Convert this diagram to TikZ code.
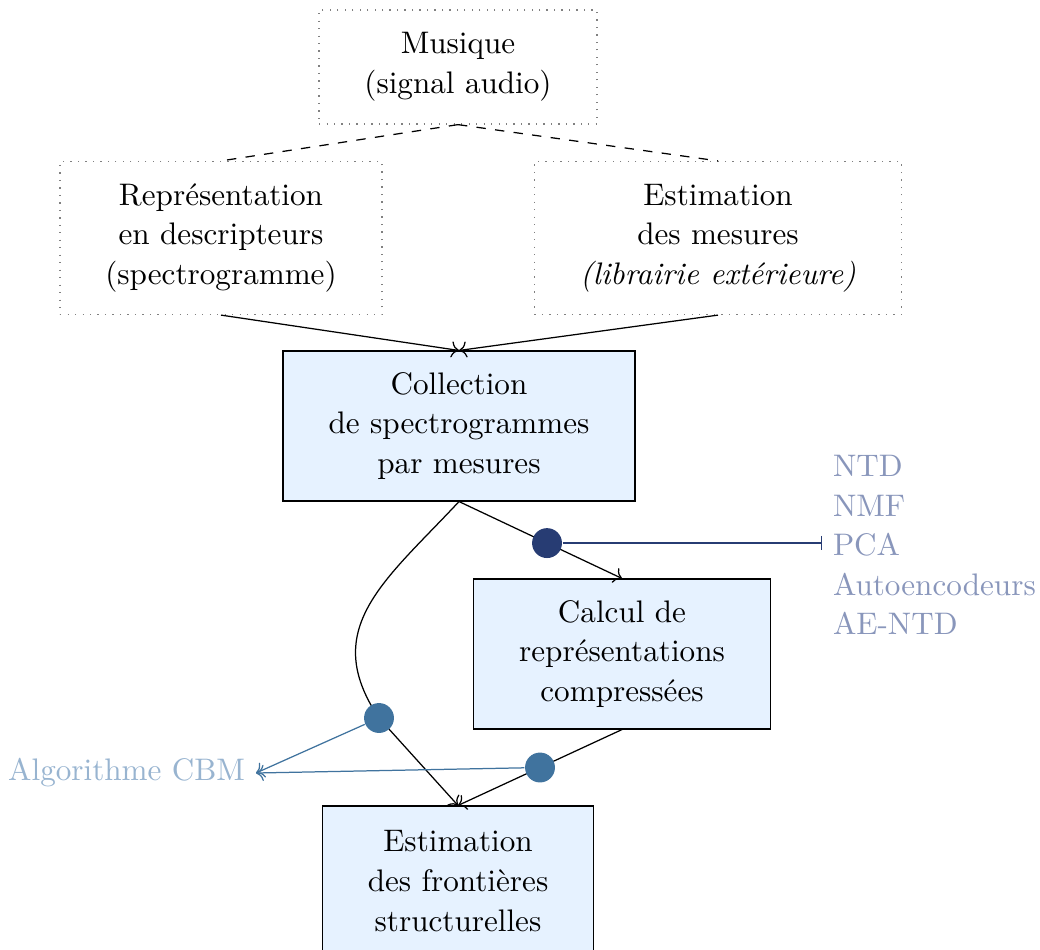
\documentclass[tikz,border=0pt]{standalone}
\usepackage{tikz}
\usetikzlibrary{arrows.meta}
\definecolor{boxblue}{RGB}{230,242,255}
\definecolor{dotnavy}{RGB}{39,60,115}
\definecolor{dotsteel}{RGB}{64,115,158}
\definecolor{listtext}{RGB}{137,150,187}
\definecolor{cbmtext}{RGB}{152,180,208}
\tikzset{
    boxd/.style = {rectangle, draw=gray, dotted, align=center},
    boxb/.style = {rectangle, draw=black, fill=boxblue, align=center},
    dotn/.style = {circle, fill=dotnavy, minimum size=9.6pt, inner sep=0pt},
    dots/.style = {circle, fill=dotsteel, minimum size=9.6pt, inner sep=0pt},
    edgen/.style = {->},
    edged/.style = {dashed}, % source
    edgep/.style = {-|, draw=dotnavy}, % methods
    edgeb/.style = {->, draw=dotsteel}, % segmentation
    every node/.style = {font=\fontsize{10pt}{12.7pt}\selectfont},
}
\begin{document}
\begin{tikzpicture}[x=0.321pt,y=-0.321pt]
\useasboundingbox (0,0) rectangle (1040,949);
%
\node[boxd, minimum width=89.2pt, minimum height=36.6pt] at (458,67) (mus) {Musique\\(signal audio)};
\node[boxd, minimum width=103.3pt, minimum height=49.1pt] at (221,238) (repr) {Représentation\\en descripteurs\\(spectrogramme)};
\node[boxd, minimum width=117.8pt, minimum height=49.1pt] at (718,238) (mes) {Estimation\\des mesures\\\textit{(librairie extérieure)}};
\node[boxb, minimum width=113pt, minimum height=48.1pt] at (459,426) (coll) {Collection\\de spectrogrammes\\par mesures};
\node[boxb, minimum width=95.3pt, minimum height=48.1pt] at (622,654) (calc) {Calcul de\\représentations\\compressées};
\node[boxb, minimum width=87pt, minimum height=48.1pt] at (458,881) (front) {Estimation\\des frontières\\structurelles};
\node[align=left, anchor=west, text=listtext] at (822,545) (algos) {NTD\\NMF\\PCA\\Autoencodeurs\\AE-NTD};
\node[anchor=east, text=cbmtext] at (256,773) (cbm) {Algorithme CBM};
\coordinate (k) at (379,718);
%
\draw[edged] (mus.south) -- (repr.north);
\draw[edged] (mus.south) -- (mes.north);
\draw[edgen] (repr.south) -- (coll.north);
\draw[edgen] (mes.south) -- (coll.north);
\draw[edgen] (coll.south) -- (calc.north) node[dotn, pos=0.54] (d1) {};
\draw[edgen] (coll.south) to[out=227, in=124, looseness=1.2] (k) -- (front.north);
\node[dots] at (k) (d2) {};
\draw[edgen] (calc.south) -- (front.north) node[dots, midway] (d3) {};
\draw[edgep] (d1) -- (d1 -| algos.west);
\draw[edgeb] (d2) -- (cbm.east);
\draw[edgeb] (d3) -- (cbm.east);
\end{tikzpicture}
\end{document}
